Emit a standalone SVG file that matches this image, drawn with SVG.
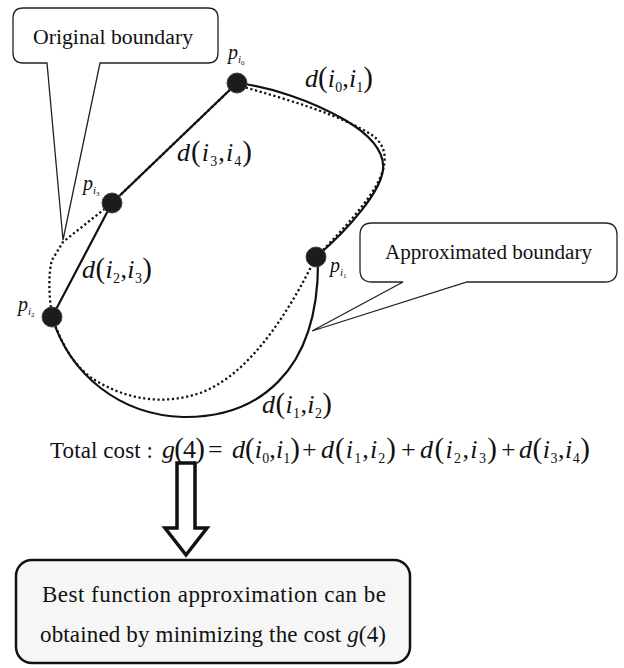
<svg xmlns="http://www.w3.org/2000/svg" width="624" height="668" viewBox="0 0 624 668">
<style>
.lbl{font-family:"Liberation Serif",serif;font-size:20px;fill:#111}
.box{font-family:"Liberation Serif",serif;font-size:23px;fill:#111}
.m{font-family:"Liberation Serif",serif;font-size:26px;fill:#111}
.it{font-style:italic}
.pr{font-size:29px}
.sb{font-size:14px}
.p{font-family:"Liberation Serif",serif;font-size:20px;font-style:italic;fill:#111}
.ps{font-size:11px}
.pss{font-size:7px;font-style:normal}
.solid{fill:none;stroke:#111;stroke-width:2.2;stroke-linejoin:round}
.dotted{fill:none;stroke:#111;stroke-width:2.3;stroke-dasharray:2.2 2.6}
.callout{fill:#fff;stroke:#222;stroke-width:1.3;stroke-linejoin:miter}
.node{fill:#1c1c1c;stroke:#444;stroke-width:1}
</style>
<rect width="624" height="668" fill="#fff"/>

<g id="callout-original">
<path class="callout" d="M23,8 H208 Q218,8 218,18 V53 Q218,63 208,63 H100 L63,240 L47,63 H23 Q13,63 13,53 V18 Q13,8 23,8 Z"/>
<text class="lbl" x="33" y="44" textLength="160" lengthAdjust="spacingAndGlyphs">Original boundary</text>
</g>

<g id="callout-approx">
<path class="callout" d="M372,223 H605 Q617,223 617,235 V270 Q617,282 605,282 H467 L312,331 L403,282 H372 Q360,282 360,270 V235 Q360,223 372,223 Z"/>
<text class="lbl" x="385" y="259" textLength="207" lengthAdjust="spacingAndGlyphs">Approximated boundary</text>
</g>

<g id="connectors">
<path class="solid" d="M237,83 C270,87 310,100 345,120 C372,136 385,152 383,170 C380,192 350,228 316,257"/>
<path class="solid" d="M52,317 C70,375 120,415 183,417 C255,418 320,375 318,257"/>
<path class="solid" d="M237,83 L112,203 L52,317"/>
<path class="dotted" d="M237,83 L112,203 L63,242 L52,260 C48,275 49,295 52,317"/>
<path class="dotted" d="M52,317 C62,345 75,370 100,383 C130,400 165,405 200,393 C250,375 290,310 316,257"/>
<path class="dotted" d="M316,257 C345,228 370,200 380,178 C388,160 386,145 372,135 C340,115 290,100 240,86"/>
</g>

<g id="node-p0">
<circle class="node" cx="237" cy="83" r="10"/>
<text class="p" x="228" y="59">p<tspan class="ps" dy="4">i</tspan><tspan class="pss" dy="2">0</tspan></text>
</g>
<g id="node-p1">
<circle class="node" cx="316" cy="257" r="10"/>
<text class="p" x="330" y="272">p<tspan class="ps" dy="4">i</tspan><tspan class="pss" dy="2">1</tspan></text>
</g>
<g id="node-p2">
<circle class="node" cx="52" cy="317" r="10"/>
<text class="p" x="18" y="311">p<tspan class="ps" dy="4">i</tspan><tspan class="pss" dy="2">2</tspan></text>
</g>
<g id="node-p3">
<circle class="node" cx="112" cy="203" r="10"/>
<text class="p" x="83" y="190">p<tspan class="ps" dy="4">i</tspan><tspan class="pss" dy="2">3</tspan></text>
</g>

<g id="edge-labels">
<text class="m" x="305" y="87" textLength="68"><tspan class="it">d</tspan><tspan class="pr">(</tspan><tspan class="it">i</tspan><tspan class="sb" dy="5">0</tspan><tspan dy="-5">,</tspan><tspan class="it">i</tspan><tspan class="sb" dy="5">1</tspan><tspan class="pr" dy="-5">)</tspan></text>
<text class="m" x="177" y="161" textLength="75"><tspan class="it">d</tspan><tspan class="pr">(</tspan><tspan class="it">i</tspan><tspan class="sb" dy="5">3</tspan><tspan dy="-5">,</tspan><tspan class="it">i</tspan><tspan class="sb" dy="5">4</tspan><tspan class="pr" dy="-5">)</tspan></text>
<text class="m" x="82" y="278" textLength="70"><tspan class="it">d</tspan><tspan class="pr">(</tspan><tspan class="it">i</tspan><tspan class="sb" dy="5">2</tspan><tspan dy="-5">,</tspan><tspan class="it">i</tspan><tspan class="sb" dy="5">3</tspan><tspan class="pr" dy="-5">)</tspan></text>
<text class="m" x="262" y="413" textLength="70"><tspan class="it">d</tspan><tspan class="pr">(</tspan><tspan class="it">i</tspan><tspan class="sb" dy="5">1</tspan><tspan dy="-5">,</tspan><tspan class="it">i</tspan><tspan class="sb" dy="5">2</tspan><tspan class="pr" dy="-5">)</tspan></text>
</g>

<g id="formula">
<text class="box" x="50" y="458" textLength="103">Total cost :</text>
<text class="m" x="162" y="458" textLength="43"><tspan class="it">g</tspan><tspan class="pr">(</tspan>4<tspan class="pr">)</tspan></text>
<text class="m" x="208" y="458">=</text>
<text class="m" x="232" y="458" textLength="68"><tspan class="it">d</tspan><tspan class="pr">(</tspan><tspan class="it">i</tspan><tspan class="sb" dy="5">0</tspan><tspan dy="-5">,</tspan><tspan class="it">i</tspan><tspan class="sb" dy="5">1</tspan><tspan class="pr" dy="-5">)</tspan></text>
<text class="m" x="302" y="458">+</text>
<text class="m" x="321" y="458" textLength="75"><tspan class="it">d</tspan><tspan class="pr">(</tspan><tspan class="it">i</tspan><tspan class="sb" dy="5">1</tspan><tspan dy="-5">,</tspan><tspan class="it">i</tspan><tspan class="sb" dy="5">2</tspan><tspan class="pr" dy="-5">)</tspan></text>
<text class="m" x="401" y="458">+</text>
<text class="m" x="420" y="458" textLength="77"><tspan class="it">d</tspan><tspan class="pr">(</tspan><tspan class="it">i</tspan><tspan class="sb" dy="5">2</tspan><tspan dy="-5">,</tspan><tspan class="it">i</tspan><tspan class="sb" dy="5">3</tspan><tspan class="pr" dy="-5">)</tspan></text>
<text class="m" x="501" y="458">+</text>
<text class="m" x="519" y="458" textLength="71"><tspan class="it">d</tspan><tspan class="pr">(</tspan><tspan class="it">i</tspan><tspan class="sb" dy="5">3</tspan><tspan dy="-5">,</tspan><tspan class="it">i</tspan><tspan class="sb" dy="5">4</tspan><tspan class="pr" dy="-5">)</tspan></text>
</g>

<g id="arrow">
<path d="M177,463 H195 V528 H207 L186,555 L165,528 H177 Z" fill="#fff" stroke="#111" stroke-width="3.5" stroke-linejoin="miter"/>
</g>

<g id="result">
<rect x="16" y="560" width="394" height="103" rx="16" ry="16" fill="#f6f6f6" stroke="#111" stroke-width="2.5"/>
<text class="box" x="42" y="602" textLength="344">Best function approximation can be</text>
<text class="box" x="40" y="642" textLength="346">obtained by minimizing the cost <tspan class="it">g</tspan>(4)</text>
</g>
</svg>
